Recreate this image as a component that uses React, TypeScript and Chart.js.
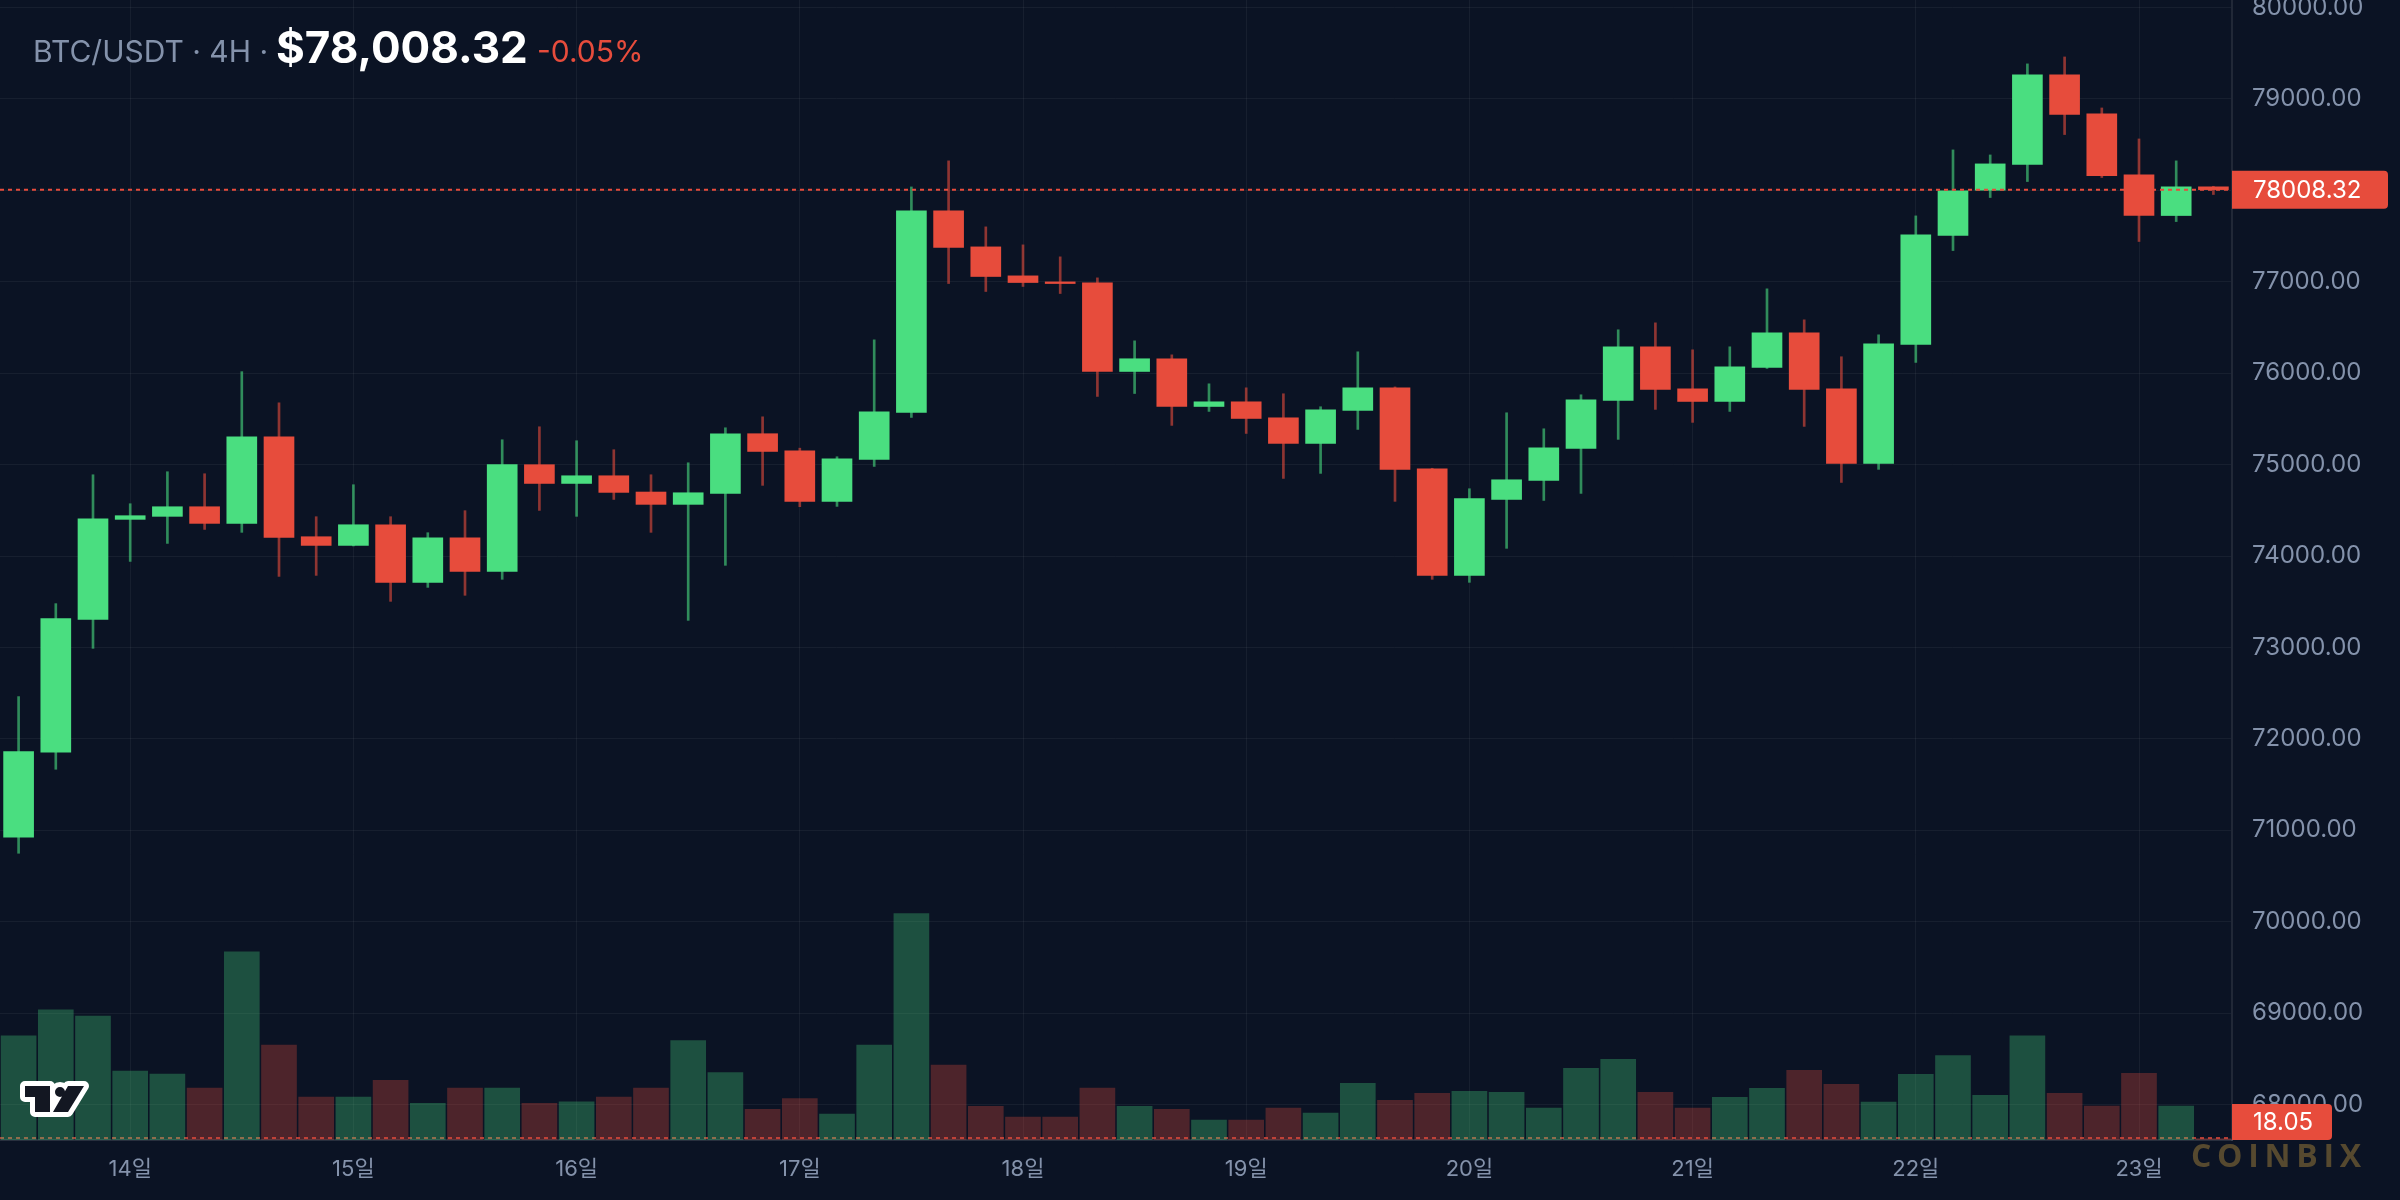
import React, { useEffect, useRef } from 'react';
import { Chart, registerables } from 'chart.js';

Chart.register(...registerables);

// ---------- DATA ----------
const SYMBOL = 'BTC/USDT';
const INTERVAL = '4H';
const LAST_PRICE = 78008.32;
const LAST_PRICE_TEXT = '$78,008.32';
const CHANGE_TEXT = '-0.05%';
const LAST_VOLUME = 18.05;
const WATERMARK = 'COINBIX';

const CATEGORIES = [
  '13 12:00', '13 16:00', '13 20:00',
  '14 00:00', '14 04:00', '14 08:00', '14 12:00', '14 16:00', '14 20:00',
  '15 00:00', '15 04:00', '15 08:00', '15 12:00', '15 16:00', '15 20:00',
  '16 00:00', '16 04:00', '16 08:00', '16 12:00', '16 16:00', '16 20:00',
  '17 00:00', '17 04:00', '17 08:00', '17 12:00', '17 16:00', '17 20:00',
  '18 00:00', '18 04:00', '18 08:00', '18 12:00', '18 16:00', '18 20:00',
  '19 00:00', '19 04:00', '19 08:00', '19 12:00', '19 16:00', '19 20:00',
  '20 00:00', '20 04:00', '20 08:00', '20 12:00', '20 16:00', '20 20:00',
  '21 00:00', '21 04:00', '21 08:00', '21 12:00', '21 16:00', '21 20:00',
  '22 00:00', '22 04:00', '22 08:00', '22 12:00', '22 16:00', '22 20:00',
  '23 00:00', '23 04:00', '23 08:00',
];

const OPEN = [
  70923, 71853, 73307, 74401, 74434, 74539, 74357, 75305, 74211, 74116,
  74342, 73712, 74200, 73832, 74999, 74794, 74878, 74700, 74565, 74685,
  75338, 75152, 74598, 75057, 75571, 77776, 77382, 77065, 76999, 76989,
  76019, 76158, 75636, 75687, 75512, 75232, 75593, 75840, 74954, 73788,
  74619, 74827, 75177, 75702, 76289, 75829, 75691, 76063, 76442, 75829,
  75013, 76315, 77507, 78002, 78283, 79263, 78837, 78170, 77725, 78039,
];
const HIGH = [
  72462, 73479, 74889, 74572, 74922, 74900, 76017, 75676, 74430, 74780,
  74430, 74255, 74496, 75272, 75414, 75261, 75163, 74889, 75020, 75403,
  75523, 75180, 75086, 76365, 78038, 78323, 77601, 77404, 77273, 77043,
  76354, 76201, 75884, 75840, 75775, 75633, 76234, 75850, 74960, 74736,
  75567, 75392, 75764, 76475, 76551, 76256, 76289, 76923, 76584, 76180,
  76420, 77721, 78443, 78388, 79384, 79460, 78902, 78563, 78323, 78045,
];
const LOW = [
  70748, 71667, 72990, 73941, 74138, 74291, 74259, 73777, 73788, 74110,
  73504, 73657, 73570, 73745, 74499, 74434, 74619, 74259, 73296, 73898,
  74773, 74540, 74543, 74980, 75516, 76981, 76894, 76949, 76872, 75746,
  75778, 75429, 75582, 75341, 74849, 74904, 75385, 74598, 73745, 73712,
  74084, 74608, 74685, 75276, 75604, 75462, 75582, 76052, 75418, 74805,
  74948, 76118, 77342, 77922, 78097, 78611, 78141, 77441, 77659, 77955,
];
const CLOSE = [
  71860, 73315, 74408, 74441, 74539, 74357, 75305, 74204, 74116, 74342,
  73712, 74200, 73832, 74999, 74794, 74878, 74696, 74565, 74692, 75338,
  75144, 74598, 75064, 75578, 77776, 77375, 77058, 76992, 76981, 76019,
  76158, 75636, 75687, 75505, 75232, 75600, 75840, 74947, 73788, 74627,
  74834, 75184, 75709, 76289, 75822, 75691, 76070, 76442, 75822, 75013,
  76322, 77514, 77995, 78290, 79263, 78830, 78162, 77725, 78039, 78008.32,
];
const VOLUME = [
  1360, 1700, 1620, 900, 860, 680, 2460, 1240, 560, 560,
  780, 480, 680, 680, 480, 500, 560, 680, 1300, 880,
  400, 540, 340, 1240, 2960, 980, 440, 300, 300, 680,
  440, 400, 260, 260, 416, 351, 741, 520, 611, 637,
  624, 416, 936, 1053, 624, 416, 559, 676, 910, 728,
  494, 858, 1105, 585, 1360, 611, 442, 871, 442, 18.05,
];

const PRICE_TICKS = [68000, 69000, 70000, 71000, 72000, 73000, 74000, 75000, 76000, 77000, 78000, 79000, 80000];
const PRICE_MIN = 67611;
const PRICE_MAX = 80083;
const VOLUME_MAX = 14900;

// ---------- STYLE ----------
const BG = '#0b1324';
const UP = '#4ade80';
const DOWN = '#e74c3c';
const UP_WICK = 'rgba(74,222,128,0.6)';
const DOWN_WICK = 'rgba(231,76,60,0.6)';
const UP_VOL = 'rgba(74,222,128,0.3)';
const DOWN_VOL = 'rgba(231,76,60,0.3)';
const GRID = 'rgba(255,255,255,0.05)';
const AXIS_LINE = 'rgba(255,255,255,0.09)';
const TICK = '#8492ab';
const FONT = 'Inter, "Noto Sans CJK KR", "Noto Sans", sans-serif';

const isUp = (i: number) => CLOSE[i] >= OPEN[i];

const overlayPlugin = {
  id: 'overlay',
  beforeDraw(chart: any) {
    const ctx = chart.ctx;
    ctx.save();
    ctx.fillStyle = BG;
    ctx.fillRect(0, 0, chart.width, chart.height);
    ctx.restore();
  },
  beforeDatasetsDraw(chart: any) {
    const { ctx, chartArea, scales } = chart;
    const y = Math.min(scales.yv.getPixelForValue(LAST_VOLUME), chartArea.bottom - 2);
    ctx.save();
    ctx.strokeStyle = 'rgba(231,76,60,0.75)';
    ctx.lineWidth = 2;
    ctx.setLineDash([4, 4]);
    ctx.beginPath();
    ctx.moveTo(chartArea.left, y);
    ctx.lineTo(chartArea.right, y);
    ctx.stroke();
    ctx.restore();
  },
  afterDatasetsDraw(chart: any) {
    const { ctx, chartArea, scales } = chart;
    const y = scales.y.getPixelForValue(LAST_PRICE);
    ctx.save();
    ctx.strokeStyle = DOWN;
    ctx.lineWidth = 2;
    ctx.setLineDash([4, 4]);
    ctx.beginPath();
    ctx.moveTo(chartArea.left, y);
    ctx.lineTo(chartArea.right, y);
    ctx.stroke();
    ctx.restore();
  },
  afterDraw(chart: any) {
    const { ctx, chartArea, scales } = chart;
    const lastUp = isUp(CLOSE.length - 1);
    // price label
    const py = scales.y.getPixelForValue(LAST_PRICE);
    ctx.save();
    ctx.fillStyle = lastUp ? UP : DOWN;
    ctx.beginPath();
    ctx.roundRect(chartArea.right, py - 19, 156, 38, [0, 4, 4, 0]);
    ctx.fill();
    ctx.fillStyle = '#ffffff';
    ctx.font = `24px ${FONT}`;
    ctx.textBaseline = 'middle';
    ctx.textAlign = 'left';
    ctx.fillText(LAST_PRICE.toFixed(2), chartArea.right + 21, py + 1);
    // volume label
    let vy = scales.yv.getPixelForValue(LAST_VOLUME);
    vy = Math.min(vy, chartArea.bottom - 18);
    ctx.fillStyle = lastUp ? UP : DOWN;
    ctx.beginPath();
    ctx.roundRect(chartArea.right, vy - 18, 100, 36, [0, 4, 4, 0]);
    ctx.fill();
    ctx.fillStyle = '#ffffff';
    ctx.fillText(String(LAST_VOLUME), chartArea.right + 21, vy + 1);
    ctx.restore();

    // header
    ctx.save();
    ctx.textBaseline = 'alphabetic';
    ctx.textAlign = 'left';
    ctx.font = `30px ${FONT}`;
    ctx.fillStyle = '#8492ab';
    ctx.fillText(`${SYMBOL} · ${INTERVAL} ·`, 33, 62);
    ctx.font = `bold 44px ${FONT}`;
    ctx.fillStyle = '#ffffff';
    ctx.fillText(LAST_PRICE_TEXT, 276, 63);
    ctx.font = `30px ${FONT}`;
    ctx.fillStyle = DOWN;
    ctx.fillText(CHANGE_TEXT, 537, 62);
    ctx.restore();

    // logo
    ctx.save();
    const p = new Path2D();
    p.moveTo(25, 1086); p.lineTo(50, 1086); p.lineTo(50, 1112); p.lineTo(35, 1112);
    p.lineTo(35, 1097); p.lineTo(25, 1097); p.closePath();
    p.moveTo(65, 1092); p.arc(60, 1092, 5, 0, Math.PI * 2); p.closePath();
    p.moveTo(68, 1086); p.lineTo(84, 1086); p.lineTo(68, 1112); p.lineTo(53, 1112); p.closePath();
    ctx.lineJoin = 'round';
    ctx.lineWidth = 10;
    ctx.strokeStyle = '#ffffff';
    ctx.stroke(p);
    ctx.fillStyle = '#131722';
    ctx.fill(p);
    ctx.restore();

    // watermark
    ctx.save();
    ctx.font = `bold 32px "Open Sans", ${FONT}`;
    ctx.fillStyle = '#56492f';
    ctx.textBaseline = 'alphabetic';
    const chars = WATERMARK.split('');
    const widths = chars.map((c) => ctx.measureText(c).width);
    const total = widths.reduce((a, b) => a + b, 0);
    const gap = (170 - total) / (chars.length - 1);
    let x = 2191;
    chars.forEach((c, i) => {
      ctx.fillText(c, x, 1167);
      x += widths[i] + gap;
    });
    ctx.restore();
  },
};

export default function App() {
  const ref = useRef<HTMLCanvasElement>(null);
  useEffect(() => {
    document.body.style.margin = '0';
    document.body.style.background = BG;
    const chart = new Chart(ref.current as HTMLCanvasElement, {
      type: 'bar',
      data: {
        labels: CATEGORIES,
        datasets: [
          {
            label: 'Volume',
            data: VOLUME,
            yAxisID: 'yv',
            backgroundColor: VOLUME.map((_, i) => (isUp(i) ? UP_VOL : DOWN_VOL)),
            barThickness: 35,
            grouped: false,
            order: 3,
          } as any,
          {
            label: 'Wick',
            data: LOW.map((l, i) => [l, HIGH[i]]),
            yAxisID: 'y',
            backgroundColor: LOW.map((_, i) => (isUp(i) ? UP_WICK : DOWN_WICK)),
            barThickness: 2,
            grouped: false,
            order: 2,
          } as any,
          {
            label: 'Body',
            data: OPEN.map((o, i) => [o, CLOSE[i]]),
            yAxisID: 'y',
            backgroundColor: OPEN.map((_, i) => (isUp(i) ? UP : DOWN)),
            barThickness: 30,
            grouped: false,
            order: 1,
          } as any,
        ],
      },
      options: {
        animation: false,
        responsive: true,
        maintainAspectRatio: false,
        events: [],
        layout: { padding: 0 },
        plugins: { legend: { display: false }, tooltip: { enabled: false }, title: { display: false } },
        scales: {
          x: {
            type: 'category',
            offset: true,
            grid: { offset: false, color: GRID, drawTicks: false, lineWidth: 1 },
            border: { display: true, color: 'rgba(255,255,255,0.12)', width: 2 },
            ticks: {
              autoSkip: false,
              maxRotation: 0,
              minRotation: 0,
              padding: 16,
              color: TICK,
              font: { family: FONT, size: 22 },
              callback: (v: any) => `${Number(CATEGORIES[v].slice(0, 2))}일`,
            },
            afterBuildTicks: (axis: any) => {
              axis.ticks = axis.ticks.filter((t: any) => CATEGORIES[t.value].endsWith('00:00'));
            },
            afterFit: (axis: any) => {
              axis.height = 60;
              axis.paddingLeft = 0;
              axis.paddingRight = 0;
            },
          },
          y: {
            type: 'linear',
            position: 'right',
            min: PRICE_MIN,
            max: PRICE_MAX,
            grid: { color: GRID, drawTicks: false, lineWidth: 1 },
            border: { display: true, color: AXIS_LINE, width: 2 },
            ticks: {
              padding: 20,
              color: TICK,
              font: { family: FONT, size: 24 },
              callback: (v: any) => Number(v).toFixed(2),
            },
            afterBuildTicks: (axis: any) => {
              axis.ticks = PRICE_TICKS.map((v) => ({ value: v }));
            },
            afterFit: (axis: any) => {
              axis.width = 168;
              axis.paddingTop = 0;
              axis.paddingBottom = 0;
            },
          },
          yv: {
            type: 'linear',
            display: false,
            min: 0,
            max: VOLUME_MAX,
          },
        },
      } as any,
      plugins: [overlayPlugin],
    });
    return () => chart.destroy();
  }, []);
  return (
    <div style={{ position: 'absolute', left: 0, top: 0, width: 2400, height: 1200 }}>
      <canvas ref={ref} />
    </div>
  );
}
